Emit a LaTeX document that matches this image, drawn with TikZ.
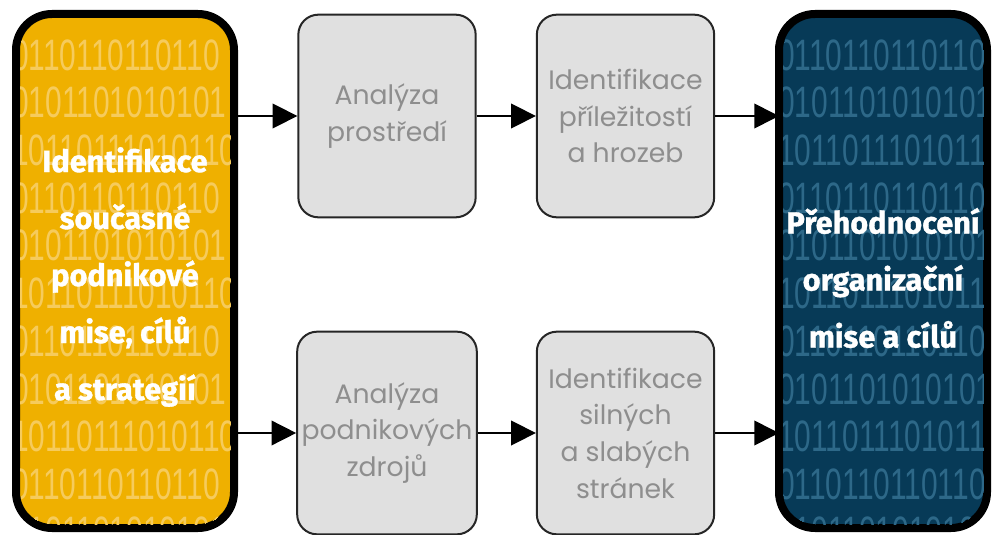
\documentclass[tikz,border=0pt]{standalone}
\usepackage{fontspec}
\setmainfont{Poppins}
\newfontfamily\headfont[BoldFeatures={FakeBold=1.2}]{Fira Sans}
\newfontfamily\bitfont[FakeStretch=0.68]{Liberation Sans}
\usetikzlibrary{arrows.meta}

\definecolor{mustard}{HTML}{EFB000}
\definecolor{mustardbit}{HTML}{F6CB5C}
\definecolor{navy}{HTML}{073A57}
\definecolor{navybit}{HTML}{2D6888}
\definecolor{panel}{HTML}{E0E0E0}
\definecolor{panelink}{HTML}{8E8E8E}

\tikzset{
  goalbox/.style={draw=black, line width=6pt, rounded corners=27pt, outer sep=0pt,
    minimum height=385.5pt},
  goaltext/.style={text=white, align=center, font=\headfont\bfseries\fontsize{23}{42.75}\selectfont},
  stagebox/.style={draw=black!85, fill=panel, line width=1.5pt, rounded corners=15pt,
    minimum width=133pt, minimum height=152pt, align=center, text=panelink,
    font=\fontsize{20}{27.5}\selectfont},
  bits/.style={anchor=west, inner sep=0pt, font=\bitfont\fontsize{33}{33}\selectfont},
  flow/.style={-{Triangle[length=18.5pt,width=18.5pt]}, line width=1.2pt}
}

\def\bitrows{0/0110110110110,1/0101101010101,2/10110111010110,3/0110110110110,4/0101101010101,5/10110111010110,6/0110110110110,7/0101101010101,8/10110111010110,9/0110110110110,10/0101101010101}

\begin{document}
\begin{tikzpicture}[x=0.75pt,y=-0.75pt]
\useasboundingbox (0,0) rectangle (996,535);

% current mission box
\node[goalbox, fill=mustard, minimum width=163.5pt] (current) at (125,271) {};
\begin{scope}
\clip[rounded corners=24pt] (20,18) rectangle (230,524);
\foreach \i/\s in \bitrows
  \node[bits, text=mustardbit] (cbits\i) at (12,55+47.7*\i) {\s};
\end{scope}
\node[goaltext] (currenttext) at (125,277) {Identifikace\\současné\\podnikové\\mise, cílů\\a strategií};

% revised mission box
\node[goalbox, fill=navy, minimum width=156pt] (revised) at (883,271) {};
\begin{scope}
\clip[rounded corners=24pt] (783,18) rectangle (983,524);
\foreach \i/\s in \bitrows
  \node[bits, text=navybit] (rbits\i) at (778,55+47.7*\i) {\s};
\end{scope}
\node[goaltext] (revisedtext) at (883,278) {Přehodnocení\\organizační\\mise a cílů};

% analysis stages
\node[stagebox] (env) at (387,116) {Analýza\\prostředí};
\node[stagebox] (opp) at (625.5,116) {Identifikace\\příležitostí\\a hrozeb};
\node[stagebox] (res) at (387,433) {Analýza\\podnikových\\zdrojů};
\node[stagebox] (swot) at (625.5,433) {Identifikace\\silných\\a slabých\\stránek};

\draw[flow] (current.east |- env.west) -- (env.west);
\draw[flow] (env) -- (opp);
\draw[flow] (opp.east) -- (revised.west |- opp.east);
\draw[flow] (current.east |- res.west) -- (res.west);
\draw[flow] (res) -- (swot);
\draw[flow] (swot.east) -- (revised.west |- swot.east);
\end{tikzpicture}
\end{document}
